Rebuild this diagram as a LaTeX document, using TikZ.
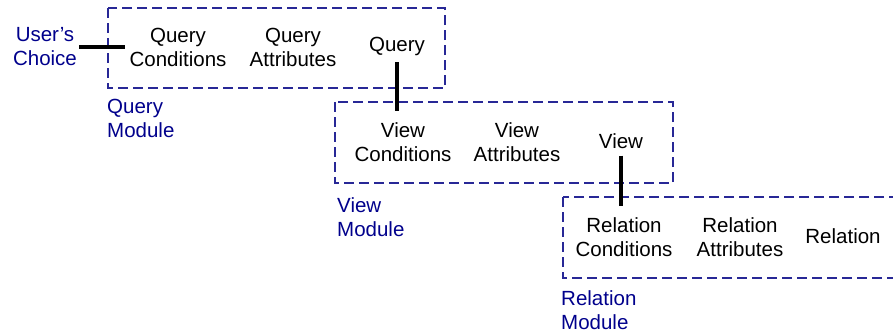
\documentclass[tikz,border=0pt]{standalone}
\usepackage{fontspec}
\setmainfont{Liberation Sans}
\definecolor{navytext}{RGB}{0,0,140}
\definecolor{navybox}{RGB}{40,40,150}
\begin{document}
\begin{tikzpicture}[x=1pt,y=-1pt,
  lbl/.style={font=\fontsize{20.5}{24}\selectfont, align=center, inner sep=2pt, text=black},
  modlbl/.style={font=\fontsize{20.5}{24}\selectfont, align=left, inner sep=0pt, text=navytext, anchor=west},
  modbox/.style={draw=navybox, line width=1.4pt, dash pattern=on 10pt off 5pt},
  conn/.style={draw=black, line width=4pt}]
\useasboundingbox (0,0) rectangle (893,333);
\clip (0,0) rectangle (893,333);
% boxes
\draw[modbox] (108,8) rectangle (445,88);
\draw[modbox] (335,102) rectangle (673,183);
\draw[modbox] (563,197) rectangle (905,278);
% labels
\node[lbl, text=navytext] (uc) at (45,47) {User's\\Choice};
\node[lbl] (qc) at (178,47) {Query\\Conditions};
\node[lbl] (qa) at (293,47) {Query\\Attributes};
\node[lbl] (q) at (397,46) {Query};
\node[lbl] (vc) at (403,142) {View\\Conditions};
\node[lbl] (va) at (517,142) {View\\Attributes};
\node[lbl] (v) at (621,141) {View};
\node[lbl] (rc) at (624,237) {Relation\\Conditions};
\node[lbl] (ra) at (740,237) {Relation\\Attributes};
\node[lbl] (r) at (843,236) {Relation};
\node[modlbl] (qm) at (107,118) {Query\\Module};
\node[modlbl] (vm) at (337,217) {View\\Module};
\node[modlbl] (rm) at (561,310) {Relation\\Module};
% connectors
\draw[conn, shorten >=2pt] (uc.east) -- (qc.west);
\draw[conn, shorten <=5pt, shorten >=9pt] (q.south) -- (q.south |- vc.north);
\draw[conn, shorten <=5pt, shorten >=9pt] (v.south) -- (v.south |- rc.north);
\end{tikzpicture}
\end{document}
